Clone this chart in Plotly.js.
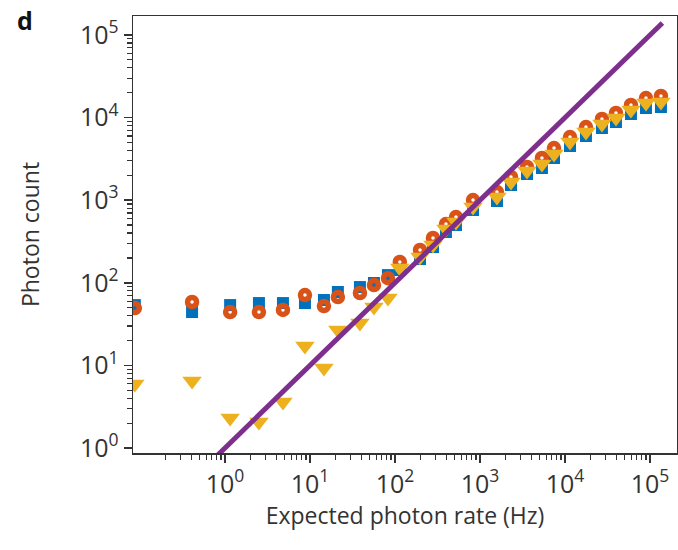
<!DOCTYPE html>
<html>
<head>
<meta charset="utf-8">
<script src="https://cdn.plot.ly/plotly-3.0.1.min.js"></script>
<style>
html,body{margin:0;padding:0;background:#fff;}
#chart{width:678px;height:550px;}
</style>
</head>
<body>
<div id="chart"></div>
<script>
// Expected photon rate (Hz)
const rateHz = [0.087, 0.41, 1.15, 2.51, 4.81, 8.73, 14.6, 21.3, 38.7, 56.6, 82.7, 114, 197, 280, 398, 522, 828, 1585, 2317, 3573, 5358, 7430, 11460, 17660, 27230, 39810, 59750, 89740, 134600];
// Photon counts, three series
const countBlue   = [53.8, 44.3, 53.8, 56.9, 56.9, 56.9, 61.9, 77.4, 88.9, 99.5, 124, 143, 194, 271, 412, 501, 761, 978, 1528, 2075, 2453, 3245, 4530, 5985, 7480, 8850, 11060, 13060, 13430];
const countOrange = [49.5, 58.6, 44.3, 44.3, 46.9, 71.2, 52.4, 67.3, 75.3, 94.1, 114, 179, 250, 349, 515, 626, 1005, 1257, 1910, 2525, 3245, 4285, 5823, 7690, 9620, 11370, 14220, 17270, 18270];
const countYellow = [5.95, 6.48, 2.31, 2.06, 3.61, 17.2, 9.3, 26.8, 32.6, 50.9, 65.5, 151, 205, 287, 448, 545, 828, 1093, 1660, 2258, 2744, 3626, 5070, 6700, 8370, 9890, 12360, 15030, 15450];
// Ideal y = x line
const idealX = [0.8, 140000];
const idealY = [0.8, 140000];

const xMajor = [1, 10, 100, 1000, 10000, 100000];
const xMajorText = ['10<sup>0</sup>', '10<sup>1</sup>', '10<sup>2</sup>', '10<sup>3</sup>', '10<sup>4</sup>', '10<sup>5</sup>'];
const yMajor = [1, 10, 100, 1000, 10000, 100000];
const yMajorText = ['10<sup>0</sup>', '10<sup>1</sup>', '10<sup>2</sup>', '10<sup>3</sup>', '10<sup>4</sup>', '10<sup>5</sup>'];

function minorTicks(decades) {
  const out = [];
  decades.forEach(d => { for (let k = 2; k <= 9; k++) out.push(k * d); });
  return out;
}
const xMinor = minorTicks([0.1, 1, 10, 100, 1000, 10000]);
const yMinor = minorTicks([1, 10, 100, 1000, 10000]);

const FONT = 'Open Sans, Noto Sans, DejaVu Sans, sans-serif';
const INK = '#333333';

const traces = [
  {x: rateHz, y: countBlue, type: 'scatter', mode: 'markers', name: 'blue',
   marker: {symbol: 'square', size: 12, color: '#0072BD'}},
  {x: rateHz, y: countOrange, type: 'scatter', mode: 'markers', name: 'orange',
   marker: {symbol: 'circle-open', size: 9, color: '#D95319', line: {width: 5.5, color: '#D95319'}}},
  {x: rateHz, y: countYellow, type: 'scatter', mode: 'markers', name: 'yellow',
   marker: {symbol: 'triangle-down', size: 17, color: '#EDB120'}},
  {x: idealX, y: idealY, type: 'scatter', mode: 'lines', name: 'ideal',
   line: {color: '#7E2F8E', width: 5}}
];

const axisCommon = {
  type: 'log', showgrid: false, zeroline: false,
  showline: true, linecolor: INK, linewidth: 1.5, mirror: true,
  ticks: 'outside', ticklen: 8, tickwidth: 1.5, tickcolor: INK,
  tickmode: 'array',
  tickfont: {family: FONT, size: 25, color: INK}
};

const layout = {
  width: 678, height: 550,
  margin: {l: 133, r: 1, t: 16, b: 97},
  paper_bgcolor: '#ffffff', plot_bgcolor: '#ffffff',
  showlegend: false,
  font: {family: FONT, color: INK},
  xaxis: Object.assign({}, axisCommon, {
    range: [-1.082, 5.318],
    tickvals: xMajor, ticktext: xMajorText,
    minor: {tickmode: 'array', tickvals: xMinor, ticks: 'outside', ticklen: 5, tickwidth: 1.2, tickcolor: INK, showgrid: false},
    title: {text: 'Expected photon rate (Hz)', font: {family: FONT, size: 23, color: INK}, standoff: 2}
  }),
  yaxis: Object.assign({}, axisCommon, {
    range: [-0.06, 5.23],
    tickvals: yMajor, ticktext: yMajorText,
    minor: {tickmode: 'array', tickvals: yMinor, ticks: 'outside', ticklen: 5, tickwidth: 1.2, tickcolor: INK, showgrid: false},
    title: {text: 'Photon count', font: {family: FONT, size: 23, color: INK}, standoff: 34}
  }),
  annotations: [
    {text: '<b>d</b>', xref: 'paper', yref: 'paper', x: -0.199, y: 0.991,
     xanchor: 'center', yanchor: 'middle', showarrow: false,
     font: {family: FONT, size: 25, color: '#111111'}}
  ]
};

Plotly.newPlot('chart', traces, layout, {displayModeBar: false, staticPlot: true});
</script>
</body>
</html>
